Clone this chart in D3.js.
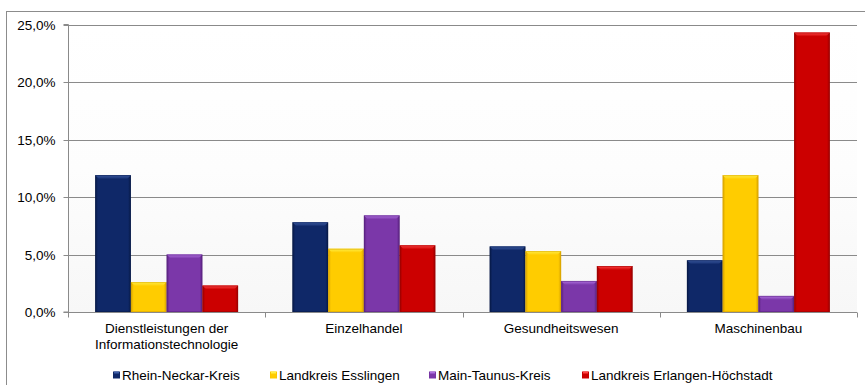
<!DOCTYPE html>
<html>
<head>
<meta charset="utf-8">
<script src="https://cdn.jsdelivr.net/npm/d3@7"></script>
<style>
  html, body { margin: 0; padding: 0; background: #fff; }
  svg { display: block; font-family: Arial, "Liberation Sans", sans-serif; }
</style>
</head>
<body>
<svg id="chart" width="865" height="385"></svg>
<script>
// Share of employees by industry, four districts
const categories = [
  ["Dienstleistungen der", "Informationstechnologie"],
  ["Einzelhandel"],
  ["Gesundheitswesen"],
  ["Maschinenbau"]
];
const seriesNames = ["Rhein-Neckar-Kreis", "Landkreis Esslingen", "Main-Taunus-Kreis", "Landkreis Erlangen-Höchstadt"];
const rheinNeckar = [11.9, 7.8, 5.7, 4.5];
const esslingen   = [2.6, 5.5, 5.3, 11.9];
const mainTaunus  = [5.0, 8.4, 2.7, 1.4];
const erlangen    = [2.3, 5.8, 4.0, 24.3];
const yTicks = [0, 5, 10, 15, 20, 25];

const seriesValues = [rheinNeckar, esslingen, mainTaunus, erlangen];
const palette = [
  { base: "#0f2868", light: "#3f5fa8", dark: "#081a48" },
  { base: "#ffcc00", light: "#fff04a", dark: "#d9a400" },
  { base: "#7b37a9", light: "#b072e0", dark: "#5a2380" },
  { base: "#cc0000", light: "#ff4545", dark: "#9a0000" }
];

const FS = 13.5;
const svg = d3.select("#chart");
const plotL = 68, plotR = 857, plotT = 24.5, plotB = 312;

const defs = svg.append("defs");
const bg = defs.append("linearGradient").attr("id", "bg").attr("x1", 0).attr("y1", 0).attr("x2", 0).attr("y2", 1);
bg.append("stop").attr("offset", "0").attr("stop-color", "#ffffff");
bg.append("stop").attr("offset", "0.5").attr("stop-color", "#fdfdfd");
bg.append("stop").attr("offset", "1").attr("stop-color", "#f7f7f7");

palette.forEach((p, i) => {
  const g = defs.append("linearGradient").attr("id", "bar" + i).attr("x1", 0).attr("y1", 0).attr("x2", 1).attr("y2", 0);
  g.append("stop").attr("offset", "0").attr("stop-color", p.dark);
  g.append("stop").attr("offset", "0.08").attr("stop-color", p.base);
  g.append("stop").attr("offset", "0.92").attr("stop-color", p.base);
  g.append("stop").attr("offset", "1").attr("stop-color", p.dark);
  const t = defs.append("linearGradient").attr("id", "top" + i).attr("x1", 0).attr("y1", 0).attr("x2", 0).attr("y2", 1);
  t.append("stop").attr("offset", "0").attr("stop-color", p.light);
  t.append("stop").attr("offset", "1").attr("stop-color", p.base);
});

// Outer frame
svg.append("rect").attr("x", 6.5).attr("y", 11.5).attr("width", 870).attr("height", 400)
  .attr("fill", "#fff").attr("stroke", "#8c8c8c").attr("stroke-width", 1);

// Plot background
svg.append("rect").attr("x", plotL).attr("y", plotT).attr("width", plotR - plotL).attr("height", plotB - plotT)
  .attr("fill", "url(#bg)");

const y = d3.scaleLinear().domain([0, 25]).range([plotB, plotT]);
const x0 = d3.scaleBand().domain(d3.range(categories.length)).range([plotL, plotR]).padding(0);
const x1 = d3.scaleBand().domain(d3.range(seriesNames.length)).range([0, x0.bandwidth()])
  .paddingInner(0).paddingOuter(0.76);

// Gridlines
svg.append("g").selectAll("line").data(yTicks.filter(d => d > 0)).join("line")
  .attr("x1", plotL).attr("x2", plotR)
  .attr("y1", d => Math.round(y(d)) + 0.5).attr("y2", d => Math.round(y(d)) + 0.5)
  .attr("stroke", "#8a8a8a").attr("stroke-width", 1);

// Y axis
const yAxis = svg.append("g").attr("transform", `translate(${plotL + 0.5},0)`)
  .call(d3.axisLeft(y).tickValues(yTicks).tickSize(5).tickPadding(8)
    .tickFormat(d => d3.format(".1f")(d).replace(".", ",") + "%"));
yAxis.select(".domain").attr("stroke", "#8a8a8a").attr("d", `M-5,${plotT}H0V${plotB}H-5`);
yAxis.selectAll(".tick line").attr("stroke", "#8a8a8a");
yAxis.selectAll(".tick").attr("transform", d => `translate(0,${Math.round(y(d)) + 0.5})`);
yAxis.selectAll("text").attr("font-size", FS).attr("fill", "#000").attr("font-family", "Arial, 'Liberation Sans', sans-serif");

// X axis line and ticks at band boundaries
const xLineY = Math.round(plotB) + 0.5;
svg.append("line").attr("x1", plotL).attr("x2", plotR).attr("y1", xLineY).attr("y2", xLineY)
  .attr("stroke", "#8a8a8a");
const bounds = d3.range(categories.length + 1).map(i => i < categories.length ? x0(i) : plotR);
svg.append("g").selectAll("line").data(bounds).join("line")
  .attr("x1", d => Math.round(d) + 0.5).attr("x2", d => Math.round(d) + 0.5)
  .attr("y1", xLineY).attr("y2", xLineY + 5).attr("stroke", "#8a8a8a");

// Category labels
const catG = svg.append("g");
categories.forEach((lines, i) => {
  const cx = x0(i) + x0.bandwidth() / 2;
  const t = catG.append("text").attr("x", cx).attr("y", 333)
    .attr("text-anchor", "middle").attr("font-size", FS).attr("fill", "#000");
  lines.forEach((ln, k) => {
    t.append("tspan").attr("x", cx).attr("dy", k === 0 ? 0 : 15.5).text(ln);
  });
});

// Bars with bevelled tops
const groups = svg.append("g").selectAll("g").data(categories).join("g")
  .attr("transform", (d, i) => `translate(${x0(i)},0)`);
groups.each(function (cat, ci) {
  const g = d3.select(this);
  seriesValues.forEach((vals, si) => {
    const v = vals[ci];
    const bx = x1(si), bw = x1.bandwidth();
    const by = y(v), bh = y(0) - y(v);
    const p = palette[si];
    g.append("rect").attr("x", bx).attr("y", by).attr("width", bw).attr("height", bh)
      .attr("fill", `url(#bar${si})`);
    const bev = Math.min(4, bh / 2);
    g.append("path")
      .attr("d", `M${bx},${by}H${bx + bw}L${bx + bw - 4},${by + bev}H${bx + 4}Z`)
      .attr("fill", `url(#top${si})`);
    g.append("rect").attr("x", bx + 0.5).attr("y", by + 0.5).attr("width", bw - 1).attr("height", Math.max(0, bh - 1))
      .attr("fill", "none").attr("stroke", p.dark).attr("stroke-opacity", 0.55).attr("stroke-width", 1);
  });
});

// Legend
const legendX = [113, 270, 429, 582];
const legend = svg.append("g");
seriesNames.forEach((name, i) => {
  const lx = legendX[i], ly = 375;
  legend.append("rect").attr("x", lx).attr("y", ly - 3.5).attr("width", 7).attr("height", 7)
    .attr("fill", `url(#bar${i})`);
  legend.append("rect").attr("x", lx + 1).attr("y", ly - 3.5).attr("width", 5).attr("height", 2)
    .attr("fill", palette[i].light);
  legend.append("text").attr("x", lx + 9).attr("y", ly).attr("dy", "0.35em")
    .attr("font-size", FS).attr("fill", "#000").text(name);
});
</script>
</body>
</html>
